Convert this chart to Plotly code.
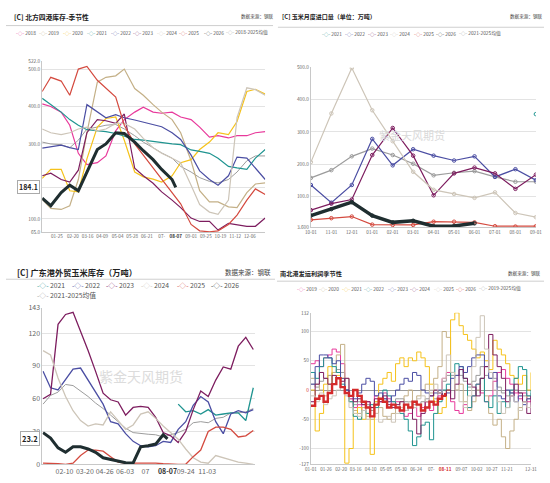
import pandas as pd
import plotly.graph_objects as go

# ---------------- data: 北方四港库存 (万吨), semi-monthly readings ----------------
p1_dates = ['01-01', '01-15', '02-01', '02-15', '03-01', '03-15', '04-01', '04-15', '05-01', '05-15',
            '06-01', '06-15', '07-01', '07-15', '08-01', '08-15', '09-01', '09-15', '10-01', '10-15',
            '11-01', '11-15', '12-01', '12-15', '12-31']
p1_2026_dates = p1_dates[:15] + ['08-07']
p1_2018 = [407, 400, 385, 350, 275, 245, 250, 268, 335, 365, 385, 398, 385, 382, 385, 372, 365, 345, 318, 322, 316, 322, 322, 330, 333]
p1_2019 = [152, 128, 125, 135, 205, 330, 465, 478, 482, 500, 448, 430, 405, 385, 365, 330, 255, 175, 145, 145, 132, 130, 170, 193, 196]
p1_2020 = [208, 232, 232, 175, 172, 260, 345, 368, 372, 310, 225, 212, 206, 198, 215, 250, 258, 285, 305, 330, 325, 360, 440, 446, 433]
p1_2021 = [422, 405, 385, 365, 350, 338, 335, 333, 328, 320, 312, 310, 306, 303, 300, 298, 284, 280, 275, 262, 240, 236, 232, 262, 285]
p1_2022 = [289, 292, 297, 290, 285, 405, 385, 370, 378, 370, 364, 358, 352, 346, 330, 312, 270, 228, 205, 190, 215, 265, 262, 235, 205]
p1_2023 = [215, 222, 205, 198, 230, 330, 365, 362, 355, 380, 235, 215, 195, 172, 150, 130, 102, 93, 93, 70, 88, 84, 80, 80, 102]
p1_2024 = [340, 330, 325, 330, 340, 345, 335, 340, 355, 355, 340, 315, 290, 275, 262, 250, 190, 138, 118, 112, 150, 370, 450, 445, 430]
p1_2025 = [440, 478, 468, 430, 500, 507, 470, 448, 425, 350, 300, 270, 236, 206, 170, 140, 85, 68, 65, 68, 85, 110, 150, 180, 165]
p1_mean = [305, 300, 298, 290, 310, 340, 345, 350, 352, 340, 322, 305, 290, 276, 262, 240, 225, 210, 200, 196, 205, 225, 255, 268, 268]
p1_2026 = [155, 135, 170, 190, 175, 225, 285, 300, 330, 328, 305, 282, 258, 232, 205, 184.1]
p1_ticks = ['01-25', '02-20', '03-16', '04-09', '05-04', '05-28', '06-21', '07-15', '08-07',
            '09-01', '09-25', '10-19', '11-12', '12-06']

# ---------------- data: 玉米月度进口量 (万吨) ----------------
p2_months = ['10-01', '11-01', '12-01', '01-01', '02-01', '03-01', '04-01', '05-01', '06-01', '07-01', '08-01', '09-01']
p2_2021 = [None, None, None, None, None, None, None, None, None, None, None, 355]
p2_2022 = [135, 80, 135, 278, 196, 246, 226, 211, 224, 160, 184, 150]
p2_2023 = [57, 77, 90, 228, 312, 226, 103, 171, 189, 171, 123, 167]
p2_2024 = [206, 357, 498, 367, 271, 176, 120, 107, 95, 112, 48, 35]
p2_2025 = [27, 32, 37, 12, 11, 11, 21, 21, 19, 7, 6, 7]
p2_2026 = [40, 60, 82, 40, 19, 24, 7, 8, 16, None, None, None]
p2_mean = [157, 181, 224, 248, 228, 201, 165, 173, 178, 160, 145, 145]

# ---------------- data: 广东港外贸玉米库存 (万吨), fortnightly readings ----------------
p3_dates = pd.date_range('2025-01-01', periods=29, freq='14D')
p3_2021 = [None] * 18 + [55, 48, 49, 46, 50, 45, 46, 47, 47, 40, 70]
p3_2022 = [85, 70, 68, 78, 87, 88, 77, 67, 55, 39, 37, 28, 21, 17, 16, 17, 21, 20, 32, 39, 54, 62, 57, 39, 28, 46, 49, 47, 50]
p3_2023 = [60, 64, 128, 137, 139, 122, 104, 85, 65, 59, 57, 45, 52, 53, 52, 43, 29, 26, 20, 30, 50, 67, 62, 77, 89, 87, 108, 116, 105]
p3_2024 = [104, 100, 79, 62, 49, 40, 35, 37, 36, 48, 40, 32, 36, 46, 48, 42, 35, 29, 23, 14, 6, 2, 1, 8, 6, 4, 2, 1, 0]
p3_2025 = [1, 1, 0.5, 0, 1, 8, 13, 13, 12, 7, 2, 1, 1, 1, 1.5, 1, 0.5, 0, 0, 0, 7, 13, 30, 34, 34, 32, 25, 26, 31]
p3_mean = [55, 63, 66, 73, 72, 67, 62, 56, 51, 45, 39, 33, 29, 28, 27.5, 27, 25, 27, 29, 32, 38, 39, 38, 42, 43, 47, 47, 48, 51]
p3_2026_dates = list(p3_dates[:17]) + [pd.Timestamp('2025-08-21')]
p3_2026 = [29, 24, 15, 11, 16, 16, 14, 11, 6, 4.5, 3, 1.5, 1.2, 16, 17, 18.5, 27, 23.2]

# ---------------- data: 南北港发运利润 (元/吨), weekly readings ----------------
p4_dates = pd.date_range('2025-01-01', periods=53, freq='7D')
p4_2019 = [45, 50, 40, 55, 60, 70, 65, 45, 0, -15, -30, -25, -35, -20, -30, -10, -20, -5, -15, -25, -20, -35, -45, -40, -30, -45,
           -30, -20, -35, -25, -10, 20, 30, -20, -35, -40, -25, -30, -10, 10, -5, -20, -10, 15, 30, 35, 20, 10, -5, -15, -5, -20, -10]
p4_2020 = [20, 10, 0, -10, 10, 30, 60, 78, 20, -20, -35, -40, -30, -45, -50, -40, -30, -45, -50, -40, -30, -20, -10, 0, -20, -10,
           0, 10, -5, 20, 40, 100, 90, 30, 0, 10, -20, -35, -20, 0, 20, -10, -40, -60, -50, -80, -100, -70, -50, -30, -20, -10, -15]
p4_2021 = [0, -70, -40, 10, 40, 10, 25, 20, -125, -100, -40, -30, -50, -40, -110, -20, 10, 20, 30, 15, 45, 55, 40, 55, 50, 65,
           55, 40, 10, -20, -40, -30, 0, 120, 132, 110, 95, 85, 70, 55, 65, 50, 35, 85, 70, 60, 45, 25, 20, 10, 25, 0, 30]
p4_2022 = [30, 20, 40, 55, 55, 40, 30, 10, 0, -20, -45, -50, -35, -40, -25, -30, -15, 0, -10, -20, -30, -40, -50, -70, -95, -80,
           -60, -55, -85, -40, -20, 0, 10, 30, 45, 40, 20, -30, -10, 10, 20, -20, -30, -10, -40, -20, -30, 0, 20, 40, 35, -10, 0]
p4_2023 = [10, 40, 60, 60, 55, 45, 50, 20, 0, -10, -15, -5, 10, 20, 15, -10, -5, -15, -20, -10, 0, 10, 20, 15, 30, 25,
           0, -5, -10, -5, 0, -10, -5, 20, 25, 40, 30, 40, 55, 60, 60, 40, 20, 30, -10, -15, 0, -5, -20, -10, -25, -15, -10]
p4_2024 = [-20, 10, 30, 20, 10, 25, 20, 15, 20, -10, -20, -15, -25, -20, -30, -15, -20, -10, -25, -30, -25, -20, -35, -30, -50, -75,
           -40, -20, -10, 0, -5, -10, 0, -15, 10, 35, 20, 10, 5, -10, 20, 40, 95, 60, 40, 20, -20, -10, 10, -5, -20, -40, -10]
p4_2025 = [-10, -20, -5, -25, -15, -10, 0, 5, -10, -30, -40, -45, -35, -50, -45, -40, -55, -50, -45, -55, -40, -30, -35, -20, -30, -15,
           -10, -20, 0, 10, -5, 20, 60, 30, 0, -20, -30, -10, 40, 90, 127, 70, 30, 0, -20, -40, -30, -10, -20, -35, -20, -30, -25]
p4_mean = [10, 5, 15, 20, 25, 30, 35, 30, -5, -15, -25, -20, -25, -25, -35, -20, -15, -15, -20, -20, -15, -15, -20, -20, -25, -25,
           -20, -15, -20, -15, -5, 15, 25, 25, 25, 25, 15, 5, 15, 25, 40, 25, 20, 20, 5, -5, -10, -5, 0, -5, -10, -15, -5]
p4_2026_dates = list(p4_dates[:32]) + [pd.Timestamp('2025-08-11')]
p4_2026 = [-27, -15, -10, -20, -5, 10, 20, 5, -5, -10, 0, -10, -20, -30, -45, -25, -15, -20, -30, -25, -30, -35, -25, -30, -20, -25,
           -35, -30, -20, -25, -15, -10, -5]
p4_ticks = ['01-01', '01-26', '02-20', '03-16', '04-10', '05-05', '05-30', '06-24', '07-19', '08-11',
            '09-07', '10-02', '10-27', '11-21', '12-31']

# ---------------- styling ----------------
FONT = "Noto Sans CJK SC, DejaVu Sans, sans-serif"
W, H = 550, 483
MAG = '#e8399b'
TAN = '#c4b087'
YEL = '#f5c21b'
TEAL = '#1f9490'
BLUE = '#4b4ea3'
PURP = '#7d1d5f'
LGRAY = '#cdc5b8'
RED = '#d44a3f'
DARK = '#1f2e30'
MEAN = '#9c9c9c'
RED26 = '#d42a2a'


def pxx(x):
    return x / W


def pyy(y):
    return 1 - y / H


fig = go.Figure()


def add_line(xv, yv, color, width, xa, ya, shape='linear', markers=False):
    fig.add_trace(go.Scatter(
        x=xv, y=yv, mode='lines+markers' if markers else 'lines',
        line=dict(color=color, width=width, shape=shape),
        marker=dict(size=3.5, symbol='circle-open', color=color, line=dict(width=1)),
        xaxis=xa, yaxis=ya, showlegend=False, hoverinfo='skip'))


# panel 1
d1 = ['2025-' + d for d in p1_dates]
d1_26 = ['2025-' + d for d in p1_2026_dates]
add_line(d1, p1_mean, MEAN, 1, 'x', 'y')
for vals, col in [(p1_2018, MAG), (p1_2019, TAN), (p1_2020, YEL), (p1_2021, TEAL), (p1_2022, BLUE),
                  (p1_2023, PURP), (p1_2024, LGRAY), (p1_2025, RED)]:
    add_line(d1, vals, col, 1.2, 'x', 'y')
add_line(d1_26, p1_2026, DARK, 3, 'x', 'y')

# panel 2
for vals, col in [(p2_mean, MEAN), (p2_2021, TEAL), (p2_2022, BLUE), (p2_2023, PURP), (p2_2024, LGRAY), (p2_2025, RED)]:
    add_line(p2_months, vals, col, 1.2, 'x2', 'y2', markers=True)
add_line(p2_months, p2_2026, DARK, 3.5, 'x2', 'y2', markers=True)

# panel 3
add_line(p3_dates, p3_mean, MEAN, 1, 'x3', 'y3')
for vals, col in [(p3_2021, TEAL), (p3_2022, BLUE), (p3_2023, PURP), (p3_2024, LGRAY), (p3_2025, RED)]:
    add_line(p3_dates, vals, col, 1.3, 'x3', 'y3')
add_line(p3_2026_dates, p3_2026, DARK, 3, 'x3', 'y3')

# panel 4
add_line(p4_dates, p4_mean, MEAN, 1, 'x4', 'y4', shape='hv')
for vals, col in [(p4_2019, MAG), (p4_2020, TAN), (p4_2021, YEL), (p4_2022, TEAL), (p4_2023, BLUE),
                  (p4_2024, PURP), (p4_2025, LGRAY)]:
    add_line(p4_dates, vals, col, 1, 'x4', 'y4', shape='hv')
add_line(p4_2026_dates, p4_2026, RED26, 2.4, 'x4', 'y4', shape='hv')


def tf(size):
    return dict(family=FONT, size=size, color='#666')


base_x = dict(showgrid=False, showline=True, linecolor='#c8c8c8', linewidth=1, ticks='', zeroline=False,
              tickangle=0)
base_y = dict(showgrid=True, gridcolor='#e3e3e3', gridwidth=1, showline=True, linecolor='#c8c8c8',
              linewidth=1, ticks='', zeroline=False)


def bold(t, col='#333'):
    return "<b><span style='color:%s'>%s</span></b>" % (col, t)


fig.update_layout(
    width=W, height=H, margin=dict(l=0, r=0, t=0, b=0),
    paper_bgcolor='white', plot_bgcolor='white', font=dict(family=FONT),
    xaxis=dict(base_x, domain=[pxx(37), pxx(265)], anchor='y', type='date',
               range=['2025-01-01', '2025-12-31'], tickfont=tf(4.6),
               tickvals=['2025-' + t for t in p1_ticks],
               ticktext=[bold(t) if t == '08-07' else ('07-' if t == '07-15' else t) for t in p1_ticks]),
    yaxis=dict(base_y, domain=[pyy(230.7), pyy(56)], anchor='x', range=[65, 522], tickfont=tf(4.8),
               tickvals=[65, 100, 184.1, 300, 400, 500, 522],
               ticktext=['65.0', '100.0', '', '300.0', '400.0', '500.0', '522.0']),
    xaxis2=dict(base_x, domain=[pxx(311.7), pxx(541.7)], anchor='y2', type='category',
                range=[0, 11], tickfont=tf(4.6)),
    yaxis2=dict(base_y, domain=[pyy(226), pyy(62.7)], anchor='x2', range=[3.6, 500], tickfont=tf(4.8),
                tickvals=[3.6, 100, 200, 300, 400, 500],
                ticktext=['3.600', '100.0', '200.0', '300.0', '400.0', '500.0']),
    xaxis3=dict(base_x, domain=[pxx(37.3), pxx(255)], anchor='y3', type='date',
                range=['2024-12-31', '2026-02-01'], tickfont=tf(7),
                tickvals=['2025-02-10', '2025-03-20', '2025-04-26', '2025-06-03', '2025-07-11',
                          '2025-08-21', '2025-09-24', '2025-11-03'],
                ticktext=['02-10', '03-20', '04-26', '06-03', '07', bold('08-07'), '09-24', '11-03']),
    yaxis3=dict(base_y, domain=[pyy(468), pyy(308.3)], anchor='x3', range=[0, 143], tickfont=tf(7),
                tickvals=[0, 30, 60, 90, 120, 143]),
    xaxis4=dict(base_x, domain=[pxx(311.7), pxx(536.7)], anchor='y4', type='date',
                range=['2025-01-01', '2025-12-31'], tickfont=tf(4.6),
                tickvals=['2025-' + t for t in p4_ticks],
                ticktext=[bold(t, '#d42a2a') if t == '08-11' else ('07-' if t == '07-19' else t) for t in p4_ticks]),
    yaxis4=dict(base_y, domain=[pyy(468), pyy(313.3)], anchor='x4', range=[-127, 132], tickfont=tf(4.8),
                tickvals=[-127, -100, -50, 0, 50, 100, 132],
                ticktext=['-127', '-100', '-50', "<span style='color:#d42a2a'>0</span>", '50', '100', '132'],
                zeroline=True, zerolinecolor='#9a9a9a', zerolinewidth=1),
)

ann = []
# titles, sources
ann.append(dict(text='<b>[C] 北方四港库存-季节性</b>', x=pxx(6), y=pyy(11), font=dict(size=6.8, color='#222')))
ann.append(dict(text='数据来源：钢联', x=pxx(276), y=pyy(11), xanchor='right', font=dict(size=4.6, color='#444')))
ann.append(dict(text='<b>[C] 玉米月度进口量（单位：万吨）</b>', x=pxx(280), y=pyy(11), font=dict(size=6, color='#222')))
ann.append(dict(text='数据来源：钢联', x=pxx(551), y=pyy(11), xanchor='right', font=dict(size=4.6, color='#444')))
ann.append(dict(text='<b>[C] 广东港外贸玉米库存（万吨）</b>', x=pxx(9), y=pyy(271.5), font=dict(size=8.2, color='#222')))
ann.append(dict(text='数据来源：钢联', x=pxx(273), y=pyy(271.5), xanchor='right', font=dict(size=6.5, color='#444')))
ann.append(dict(text='<b>南北港发运利润季节性</b>', x=pxx(278), y=pyy(273), font=dict(size=6.2, color='#222')))
ann.append(dict(text='数据来源：钢联', x=pxx(549), y=pyy(273), xanchor='right', font=dict(size=4.6, color='#444')))


# legends
def legend_row(names, colors, xs, y, size):
    for n, c, x in zip(names, colors, xs):
        ann.append(dict(text="<span style='color:%s'>-◇-</span> %s" % (c, n), x=pxx(x), y=pyy(y),
                        font=dict(size=size, color='#555')))


legend_row(['2018', '2019', '2020', '2021', '2022', '2023', '2024', '2025', '2026', '2018-2025均值'],
           [MAG, TAN, YEL, TEAL, BLUE, PURP, LGRAY, RED, DARK, MEAN],
           [8, 32, 56, 81, 105, 128, 152, 175, 200, 223], 27, 4.8)
legend_row(['2021', '2022', '2023', '2024', '2025', '2026', '2021-2025均值'],
           [TEAL, BLUE, PURP, LGRAY, RED, DARK, MEAN],
           [321, 345, 368, 391, 415, 438, 461], 28, 4.8)
legend_row(['2021', '2022', '2023', '2024', '2025', '2026'],
           [TEAL, BLUE, PURP, LGRAY, RED, DARK],
           [30, 65, 100, 136, 173, 208], 284.5, 6.8)
legend_row(['2021-2025均值'], [MEAN], [30], 295.5, 6.8)
legend_row(['2019', '2020', '2021', '2022', '2023', '2024', '2025', '2026', '2019-2025均值'],
           [MAG, TAN, YEL, TEAL, BLUE, PURP, LGRAY, RED26, MEAN],
           [295, 318, 341, 364, 388, 411, 435, 458, 481], 288, 4.8)

# last-value boxes
ann.append(dict(text='<b>184.1</b>', xref='paper', yref='y', x=pxx(35), y=184.1, xanchor='right',
                font=dict(size=7, color='#222'), bgcolor='white', bordercolor='#aaa', borderwidth=1, borderpad=1))
ann.append(dict(text='<b>23.2</b>', xref='paper', yref='y3', x=pxx(35), y=23.2, xanchor='right',
                font=dict(size=7.5, color='#222'), bgcolor='white', bordercolor='#aaa', borderwidth=1, borderpad=1))
# watermarks
ann.append(dict(text='紫金天风期货', x=pxx(415), y=pyy(132), xanchor='center', font=dict(size=11, color='#d9d9d9')))
ann.append(dict(text='紫金天风期货', x=pxx(138), y=pyy(378), xanchor='center', font=dict(size=14, color='#dcdcdc')))

for a in ann:
    a.setdefault('xref', 'paper')
    a.setdefault('yref', 'paper')
    a.setdefault('xanchor', 'left')
    a.setdefault('yanchor', 'middle')
    a['showarrow'] = False
fig.update_layout(annotations=ann)

# header separators
seps = [(0, 273, 20), (278, 550, 21.7), (0, 275, 279), (277, 550, 281)]
fig.update_layout(shapes=[dict(type='line', xref='paper', yref='paper', x0=pxx(a), x1=pxx(b), y0=pyy(y), y1=pyy(y),
                               line=dict(color='#cfcfcf', width=1)) for a, b, y in seps])

# page body has an 8px default margin; clear it so the 550x483 figure fills the window
fig.write_html('out.html', config={'displayModeBar': False},
               post_script="document.body.style.margin='0';document.body.style.overflow='hidden';")
